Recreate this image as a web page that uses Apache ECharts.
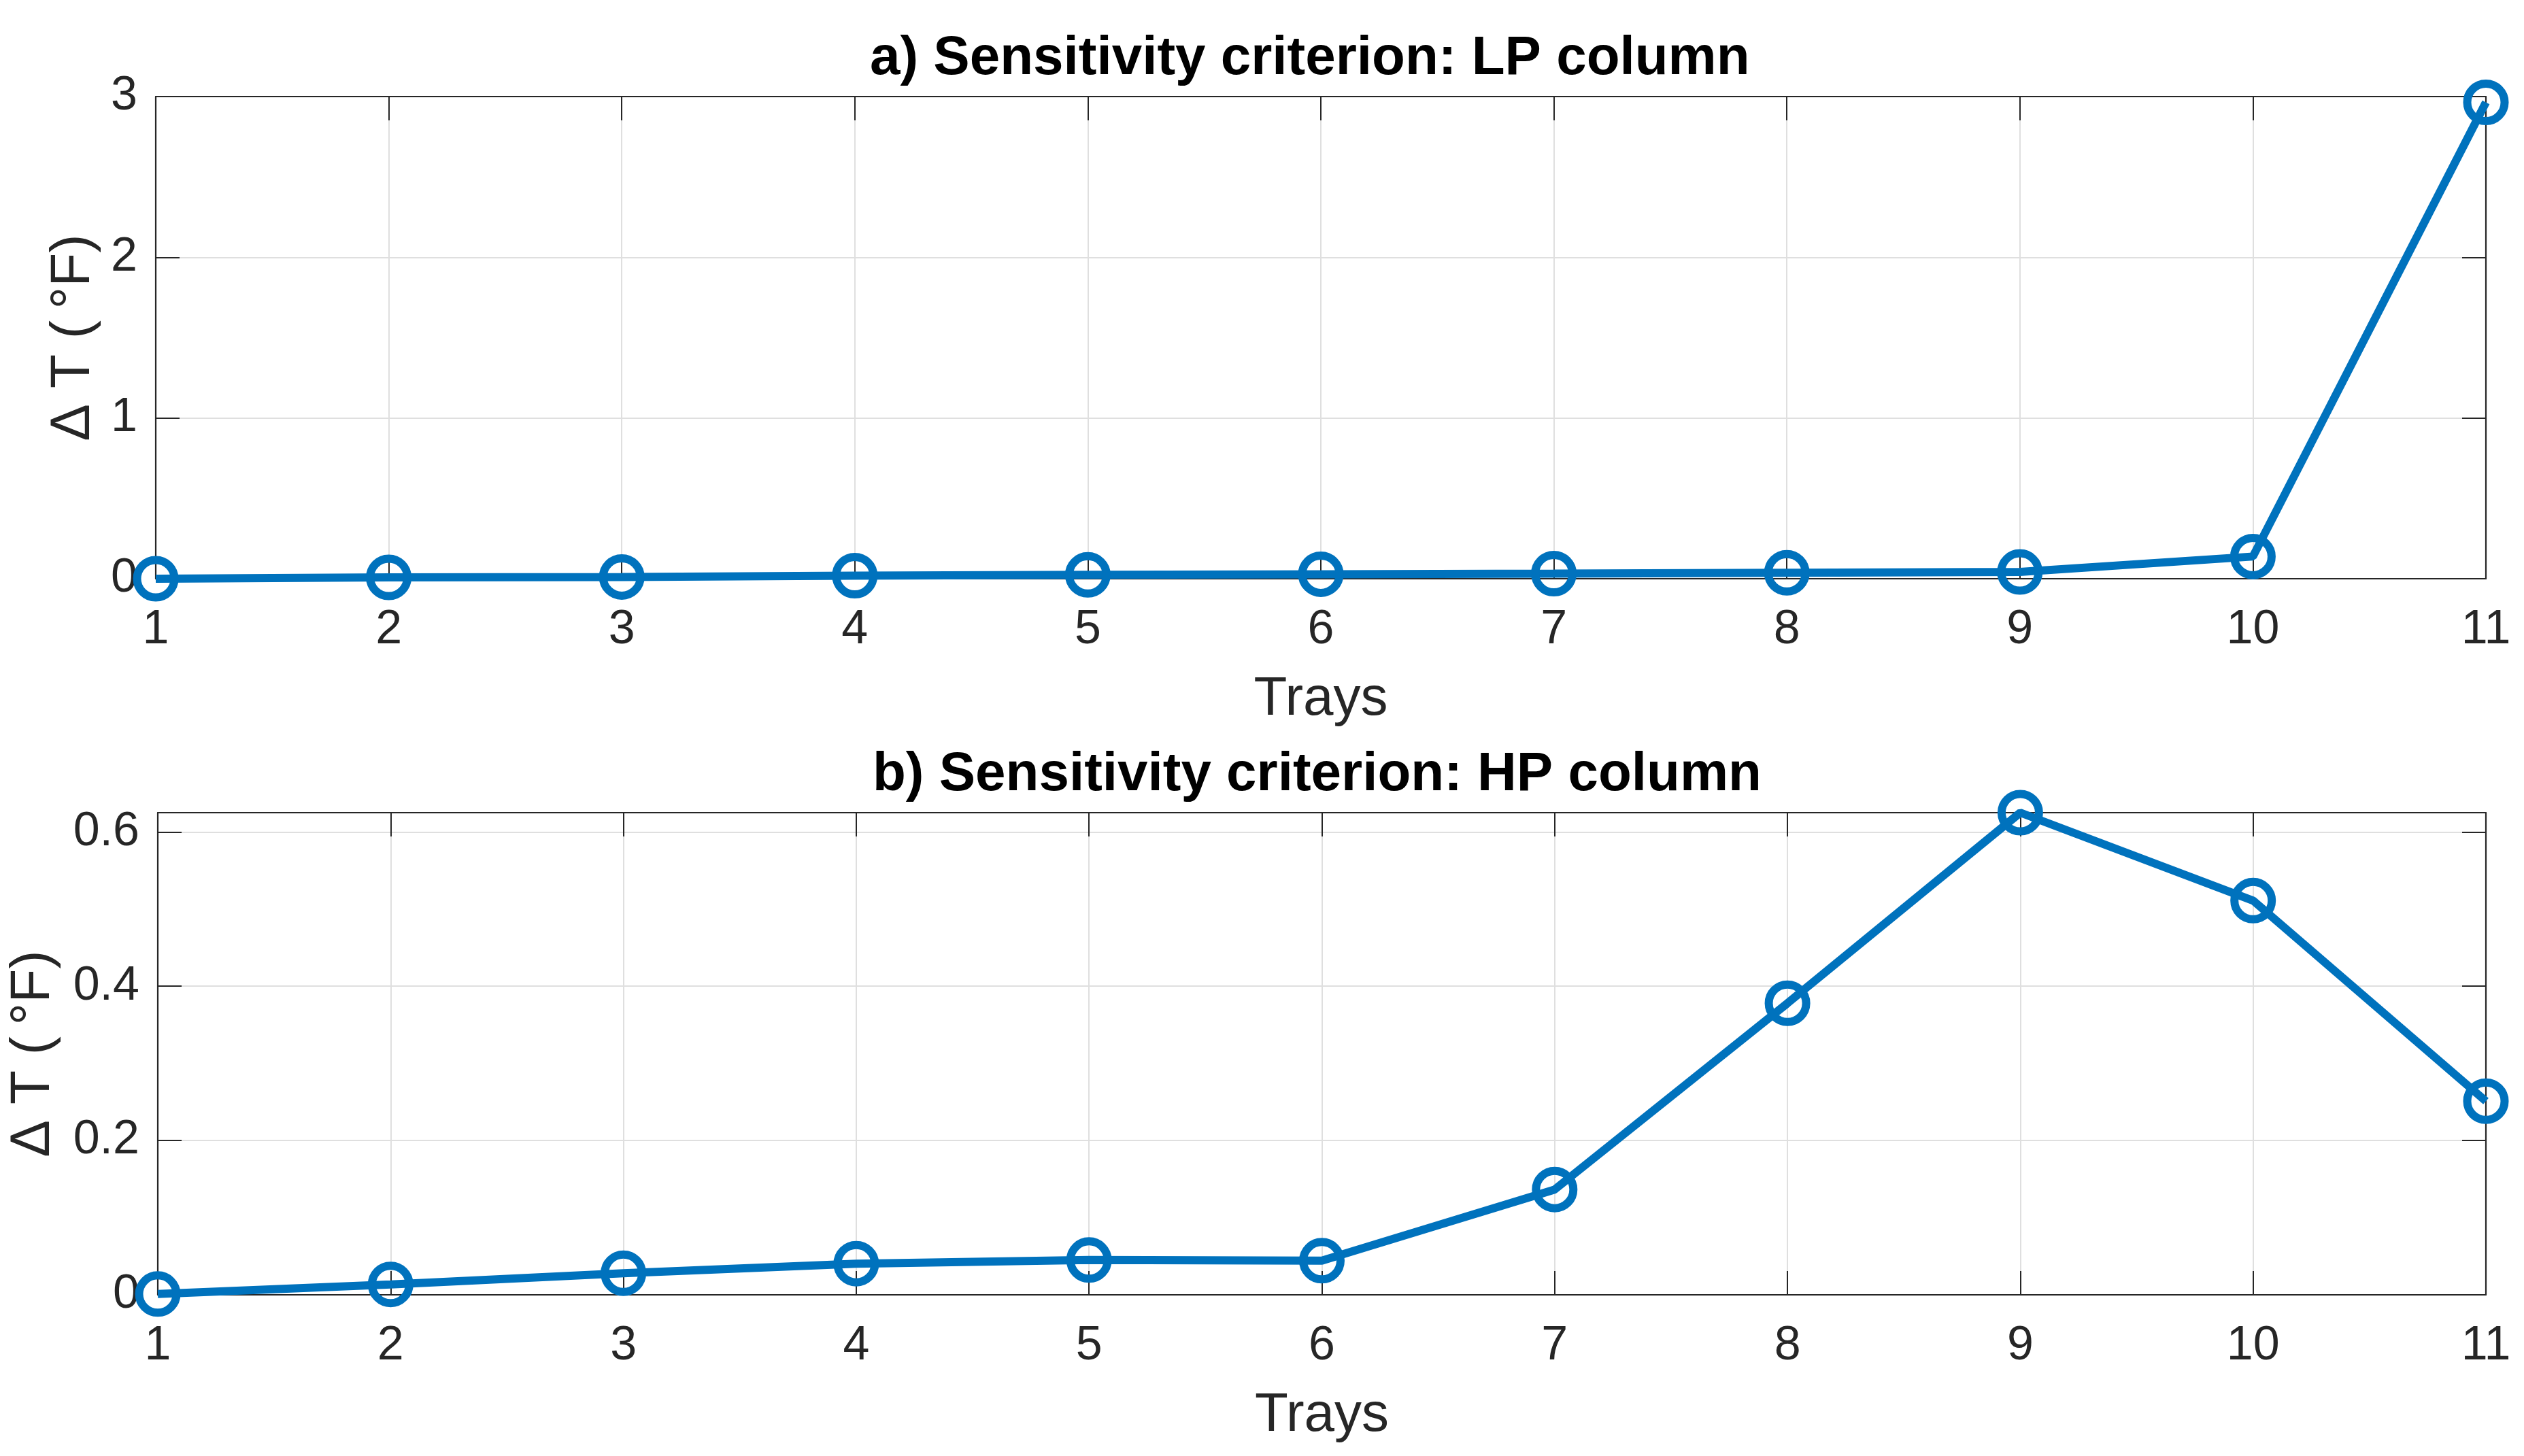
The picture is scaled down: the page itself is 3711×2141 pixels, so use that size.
<!DOCTYPE html>
<html>
<head>
<meta charset="utf-8">
<script src="https://cdn.jsdelivr.net/npm/echarts@6/dist/echarts.min.js"></script>
<style>
html,body{margin:0;padding:0;background:#fff;}
#chart{width:3711px;height:2141px;}
</style>
</head>
<body>
<div id="chart"></div>
<script>
// ---- data ----
const trays = [1, 2, 3, 4, 5, 6, 7, 8, 9, 10, 11];
const lpValues = [0.000, 0.0085, 0.011, 0.019, 0.024, 0.028, 0.032, 0.037, 0.042, 0.138, 2.964];
const hpValues = [0.001, 0.0135, 0.028, 0.0404, 0.0451, 0.0442, 0.1365, 0.378, 0.625, 0.511, 0.251];
const titles = ['a) Sensitivity criterion: LP column', 'b) Sensitivity criterion: HP column'];
const xName = 'Trays';
const yName = 'Δ T (\u2009°F)';
const lpYMax = 3, lpYInterval = 1;
const hpYMax = 0.625, hpYInterval = 0.2;

// ---- style ----
const FONT = 'Liberation Sans, Arial, Helvetica, sans-serif';
const TXT = '#262626';
const BLUE = '#0072BD';
const grids = [
  {left: 229, top: 142, width: 3426, height: 709},
  {left: 229, top: 1195, width: 3426, height: 709}
];

function pairs(vals) { return trays.map((t, i) => [t, vals[i]]); }

const tickStyle = {show: true, inside: true, length: 35, lineStyle: {color: TXT, width: 2}};
const lineStyleAxis = {show: true, onZero: false, lineStyle: {color: TXT, width: 2.2}};
const splitStyle = {show: true, lineStyle: {color: '#dfdfdf', width: 2}};

const xAxes = [], yAxes = [];
[0, 1].forEach(g => {
  xAxes.push({
    type: 'value', gridIndex: g, position: 'bottom', min: 1, max: 11, interval: 1,
    axisLine: lineStyleAxis, axisTick: tickStyle, splitLine: splitStyle,
    axisLabel: {color: TXT, fontFamily: FONT, fontSize: 70, margin: 41},
    name: xName, nameLocation: 'middle', nameGap: 138,
    nameTextStyle: {color: TXT, fontFamily: FONT, fontSize: 80}
  });
  xAxes.push({
    type: 'value', gridIndex: g, position: 'top', min: 1, max: 11, interval: 1,
    axisLine: lineStyleAxis, axisTick: tickStyle, splitLine: {show: false},
    axisLabel: {show: false}
  });
  const ymax = g === 0 ? lpYMax : hpYMax;
  const yint = g === 0 ? lpYInterval : hpYInterval;
  yAxes.push({
    type: 'value', gridIndex: g, position: 'left', min: 0, max: ymax, interval: yint,
    axisLine: lineStyleAxis, axisTick: tickStyle, splitLine: splitStyle,
    axisLabel: {color: TXT, fontFamily: FONT, fontSize: 70, margin: 27, showMaxLabel: g === 0},
    name: yName, nameLocation: 'middle', nameGap: g === 0 ? 80 : 142,
    nameTextStyle: {color: TXT, fontFamily: FONT, fontSize: 82}
  });
  yAxes.push({
    type: 'value', gridIndex: g, position: 'right', min: 0, max: ymax, interval: yint,
    axisLine: lineStyleAxis, axisTick: tickStyle, splitLine: {show: false},
    axisLabel: {show: false}
  });
});

function series(vals, g) {
  return {
    type: 'line', xAxisIndex: g * 2, yAxisIndex: g * 2, data: pairs(vals),
    symbol: 'circle', symbolSize: 55, clip: false, silent: true, z: 10,
    lineStyle: {color: BLUE, width: 12},
    itemStyle: {color: 'rgba(0,0,0,0)', borderColor: BLUE, borderWidth: 12},
    emphasis: {disabled: true}
  };
}

const chart = echarts.init(document.getElementById('chart'), null, {renderer: 'canvas'});
chart.setOption({
  animation: false,
  backgroundColor: '#ffffff',
  title: [
    {text: titles[0], left: 1279, top: 47, padding: 0,
     textStyle: {color: '#000', fontFamily: FONT, fontSize: 80, fontWeight: 'bold'}},
    {text: titles[1], left: 1283, top: 1100, padding: 0,
     textStyle: {color: '#000', fontFamily: FONT, fontSize: 80, fontWeight: 'bold'}}
  ],
  grid: grids,
  xAxis: xAxes,
  yAxis: yAxes,
  series: [series(lpValues, 0), series(hpValues, 1)]
});
</script>
</body>
</html>
